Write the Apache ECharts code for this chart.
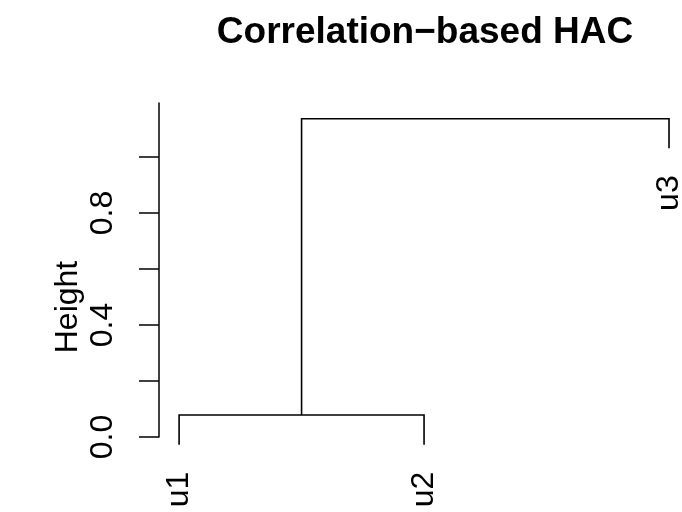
<!DOCTYPE html>
<html>
<head>
<meta charset="utf-8">
<title>Correlation-based HAC</title>
<script src="https://cdn.jsdelivr.net/npm/echarts@6/dist/echarts.min.js"></script>
<style>
  html, body { margin: 0; padding: 0; background: #ffffff; }
  #chart { width: 682px; height: 512px; }
</style>
</head>
<body>
<div id="chart"></div>
<script>
// Leaves in plotting order
const leafLabels = ['u1', 'u2', 'u3'];
// Merge steps, hclust style: negative = leaf index, positive = earlier merge step
const mergePairs = [[-1, -2], [-3, 1]];
// Height at which each merge happens
const mergeHeights = [0.0785, 1.1367];
// Fraction of the height range that leaves hang below their parent
const hang = 0.1;
// Y axis ticks and labelled ticks
const yTicks = [0, 0.2, 0.4, 0.6, 0.8, 1.0];
const yTickLabels = [0, 0.4, 0.8];

const FONT = '"Liberation Sans", Arial, Helvetica, sans-serif';
const TEXT_SIZE = 32;

// --- build dendrogram geometry in data units ---
const hangDist = hang * (Math.max(...mergeHeights) - Math.min(...mergeHeights));
const leafX = leafLabels.map((_, i) => i + 1);
const leafY = new Array(leafLabels.length).fill(0);
const nodeX = [];
const mergeEnds = [];
mergePairs.forEach((pair, k) => {
  const h = mergeHeights[k];
  const ends = pair.map(c => {
    if (c < 0) {
      const li = -c - 1;
      leafY[li] = h - hangDist;
      return [leafX[li], h - hangDist];
    }
    return [nodeX[c - 1], mergeHeights[c - 1]];
  });
  nodeX[k] = (ends[0][0] + ends[1][0]) / 2;
  mergeEnds[k] = ends;
});
const segmentData = mergeEnds.map((ends, k) => [
  ends[0][0], ends[0][1], ends[1][0], ends[1][1], mergeHeights[k]
]);
const leafData = leafLabels.map((_, i) => [leafX[i], leafY[i]]);

const chart = echarts.init(document.getElementById('chart'), null, { renderer: 'canvas' });

chart.setOption({
  animation: false,
  backgroundColor: '#ffffff',
  title: {
    text: 'Correlation\u2212based HAC',
    left: 420,
    top: 9,
    textAlign: 'center',
    textStyle: { fontFamily: FONT, fontSize: 37, fontWeight: 'bold', color: '#000' }
  },
  grid: { left: 159, right: 0, top: 103, bottom: 75, containLabel: false },
  xAxis: {
    type: 'value', min: 0.918, max: 3.053, show: false
  },
  yAxis: {
    type: 'value', min: 0, max: 1.1927,
    axisLine: { show: true, lineStyle: { color: '#000', width: 1.5 } },
    axisTick: { show: true, length: 20, customValues: yTicks, lineStyle: { color: '#000', width: 1.5 } },
    axisLabel: {
      show: true, customValues: yTickLabels, rotate: 90, margin: 40,
      formatter: v => Number(v).toFixed(1),
      fontFamily: FONT, fontSize: TEXT_SIZE, color: '#000'
    },
    splitLine: { show: false }
  },
  graphic: [{
    type: 'text', x: 68, y: 307, rotation: Math.PI / 2,
    style: { text: 'Height', font: TEXT_SIZE + 'px ' + FONT, fill: '#000', align: 'center', verticalAlign: 'middle' }
  }],
  series: [
    {
      type: 'custom',
      clip: false,
      data: segmentData,
      renderItem: (params, api) => {
        const a = api.coord([api.value(0), api.value(1)]);
        const b = api.coord([api.value(0), api.value(4)]);
        const c = api.coord([api.value(2), api.value(4)]);
        const d = api.coord([api.value(2), api.value(3)]);
        return {
          type: 'polyline',
          shape: { points: [a, b, c, d] },
          style: { stroke: '#000', lineWidth: 1.6, fill: null }
        };
      }
    },
    {
      type: 'custom',
      clip: false,
      data: leafData,
      renderItem: (params, api) => {
        const p = api.coord([api.value(0), api.value(1)]);
        return {
          type: 'text',
          x: p[0], y: p[1] + 27,
          rotation: Math.PI / 2,
          style: {
            text: leafLabels[params.dataIndex],
            font: TEXT_SIZE + 'px ' + FONT, fill: '#000',
            align: 'right', verticalAlign: 'middle'
          }
        };
      }
    }
  ]
});
</script>
</body>
</html>
